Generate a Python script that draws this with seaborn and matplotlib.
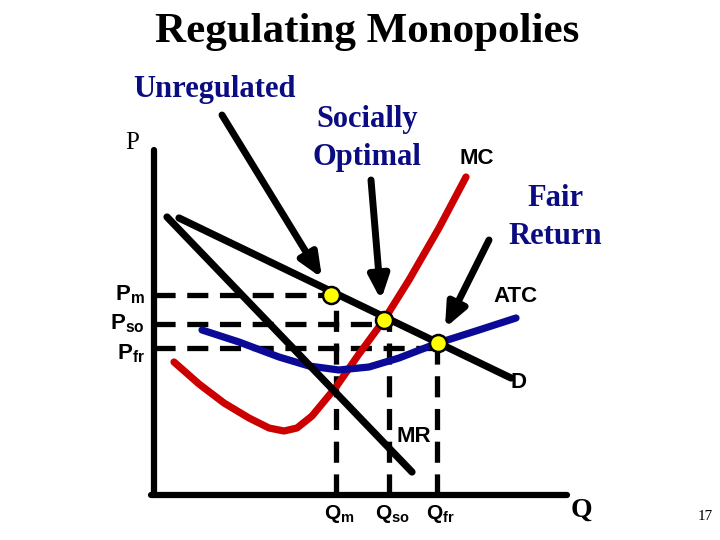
import matplotlib
matplotlib.use('Agg')
import matplotlib.pyplot as plt
import seaborn as sns

# ============================================================
# Dados (quantidade Q, preço P)
# ============================================================
demand_q = [2.5, 35.7]
demand_p = [27.7, 11.7]

mr_q = [1.3, 25.8]
mr_p = [27.8, 2.3]

mc_q = [2.0, 4.5, 7.0, 9.5, 11.5, 13.0, 14.3, 15.8, 18.2, 20.5, 23.0, 25.5, 28.5, 31.2]
mc_p = [13.3, 11.1, 9.2, 7.7, 6.7, 6.4, 6.7, 7.9, 10.8, 14.1, 17.5, 21.5, 26.7, 31.8]

atc_q = [4.8, 8.5, 12.5, 15.5, 18.5, 21.5, 24.5, 28.4, 32.5, 36.2]
atc_p = [16.5, 15.3, 13.8, 12.9, 12.5, 12.8, 13.7, 15.2, 16.5, 17.7]

# pontos de equilíbrio: monopólio, socialmente ótimo, retorno justo
eq_q = [17.7, 23.0, 28.4]
eq_p = [20.0, 17.5, 15.2]

# níveis das linhas tracejadas
level_q = [18.2, 23.5, 28.3]
level_p = [20.0, 17.1, 14.7]
price_labels = ['P$_{\\mathrm{m}}$', 'P$_{\\mathrm{so}}$', 'P$_{\\mathrm{fr}}$']
qty_labels = ['Q$_{\\mathrm{m}}$', 'Q$_{\\mathrm{so}}$', 'Q$_{\\mathrm{fr}}$']

# setas: início (texto) -> ponta
arrow_start = [(6.8, 38.0), (21.7, 31.5), (33.5, 25.5)]
arrow_end = [(16.8, 21.7), (22.7, 19.5), (29.1, 16.7)]

axis_top = 34.5
axis_right = 41.3

# ============================================================
# Figura
# ============================================================
sns.set_style('white')
plt.rcParams['text.color'] = 'black'
plt.rcParams['mathtext.fontset'] = 'custom'
plt.rcParams['mathtext.rm'] = 'Liberation Sans:bold'
plt.rcParams['font.family'] = ['Liberation Sans', 'DejaVu Sans']

navy = '#0c0c82'
red = '#cc0000'
blue = '#0a0a96'
serif = 'Liberation Serif'

fig = plt.figure(figsize=(7.2, 5.4), dpi=100)
ax = fig.add_axes([0, 0, 1, 1])
ax.set_xlim(-15.4, 56.6)
ax.set_ylim(-4.5, 49.5)
ax.axis('off')

# eixos do gráfico
sns.lineplot(x=[0, 0], y=[0, axis_top], sort=False, estimator=None,
             color='black', lw=4.5, ax=ax)
sns.lineplot(x=[-0.3, axis_right], y=[0, 0], sort=False, estimator=None,
             color='black', lw=4.5, ax=ax)

# linhas tracejadas
dash = (0, (4, 2.2))
ax.hlines(level_p, 0, level_q, colors='black', lw=3.8, linestyles=dash, zorder=1)
ax.vlines(level_q, 0, level_p, colors='black', lw=3.8, linestyles=dash, zorder=1)

# curvas
sns.lineplot(x=mc_q, y=mc_p, sort=False, estimator=None, color=red, lw=5.2, ax=ax)
sns.lineplot(x=atc_q, y=atc_p, sort=False, estimator=None, color=blue, lw=5.2, ax=ax)
sns.lineplot(x=mr_q, y=mr_p, sort=False, estimator=None, color='black', lw=5.2, ax=ax)
sns.lineplot(x=demand_q, y=demand_p, sort=False, estimator=None, color='black', lw=5.2, ax=ax)

sns.scatterplot(x=eq_q, y=eq_p, s=150, color='#ffff00', edgecolor='black',
                linewidth=1.8, zorder=5, ax=ax)

# setas
for (x0, y0), (x1, y1) in zip(arrow_start, arrow_end):
    ax.annotate('', xy=(x1, y1), xytext=(x0, y0),
                arrowprops=dict(arrowstyle='-|>,head_length=1.4,head_width=0.6',
                                color='black', lw=5, shrinkA=0, shrinkB=0))

# rótulos
for lab, p in zip(price_labels, level_p):
    ax.text(-0.9, p + (-0.6 if lab.endswith('fr}}$') else 0), lab, fontsize=16,
            weight='bold', ha='right', va='center')
for lab, q in zip(qty_labels, level_q):
    ax.text(q + 0.3, -1.9, lab, fontsize=15, weight='bold', ha='center', va='center')

ax.text(-2.2, 35.2, 'P', family=serif, fontsize=18, ha='center', va='center')
ax.text(42.7, -1.5, 'Q', family=serif, fontsize=20, weight='bold', ha='center', va='center')
ax.text(55.1, -2.2, '17', family=serif, fontsize=11, ha='center', va='center')

ax.text(6.1, 40.5, 'Unregulated', family=serif, fontsize=22, weight='bold',
        color=navy, ha='center', va='center')
ax.text(21.3, 37.5, 'Socially', family=serif, fontsize=22, weight='bold',
        color=navy, ha='center', va='center')
ax.text(21.3, 33.7, 'Optimal', family=serif, fontsize=22, weight='bold',
        color=navy, ha='center', va='center')
ax.text(40.1, 29.7, 'Fair', family=serif, fontsize=22, weight='bold',
        color=navy, ha='center', va='center')
ax.text(40.1, 25.8, 'Return', family=serif, fontsize=22, weight='bold',
        color=navy, ha='center', va='center')

ax.text(32.3, 33.7, 'MC', fontsize=16, weight='bold', ha='center', va='center')
ax.text(36.1, 19.8, 'ATC', fontsize=16, weight='bold', ha='center', va='center')
ax.text(36.5, 11.3, 'D', fontsize=16, weight='bold', ha='center', va='center')
ax.text(26.0, 5.8, 'MR', fontsize=16, weight='bold', ha='center', va='center')

fig.text(0.51, 0.94, 'Regulating Monopolies', family=serif, fontsize=31,
         weight='bold', ha='center', va='center')

fig.savefig('out.png', dpi=100)
